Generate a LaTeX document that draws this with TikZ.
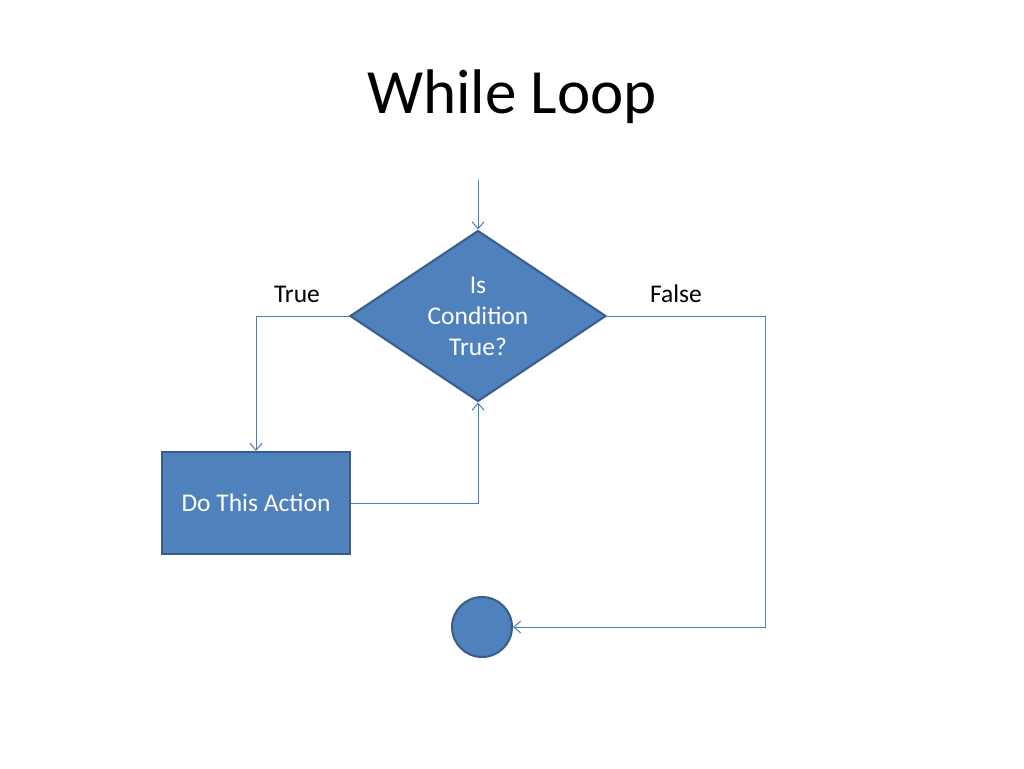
\documentclass[tikz,border=0pt]{standalone}
\usepackage{fontspec}
\setmainfont{Carlito}
\usetikzlibrary{arrows.meta,shapes.geometric,positioning}
\definecolor{boxfill}{HTML}{4F81BD}
\definecolor{boxline}{HTML}{385D8A}
\definecolor{flow}{HTML}{4A7EBB}
\tikzset{
  shapebox/.style={fill=boxfill,draw=boxline,line width=2pt,text=white,
    font=\fontsize{25.5}{31}\selectfont,align=center,inner sep=0pt},
  flowline/.style={draw=flow,line width=1pt,-{Straight Barb[length=7pt,width=12pt]}},
  tag/.style={font=\fontsize{25.5}{31}\selectfont}
}
\begin{document}
\begin{tikzpicture}[x=1pt,y=-1pt]
    \useasboundingbox[fill=white] (0,0) rectangle (1024,768);
    \node (title) at (512,97) {\fontsize{63}{72}\selectfont While Loop};
    \coordinate (start) at (478,180);
    \node[shapebox,diamond,aspect=1.5,minimum width=256pt,minimum height=171pt]
      (cond) at (478,316) {Is\\Condition\\True?};
    \node[shapebox,rectangle,minimum width=188pt,minimum height=102pt]
      (act) at (256,503) {Do This Action};
    \node[shapebox,circle,minimum size=60pt] (stop) at (482,627) {};
    \node[tag] (true) at (297,294) {True};
    \node[tag] (false) at (676,294) {False};
    % connectors
    \draw[flowline] (start) -- (cond.north);
    \draw[flowline] (cond.west) -| (act.north);
    \draw[flowline] (act.east) -| (cond.south);
    \draw[flowline] (cond.east) -- (765,316) |- (stop.east);
  \end{tikzpicture}
\end{document}
